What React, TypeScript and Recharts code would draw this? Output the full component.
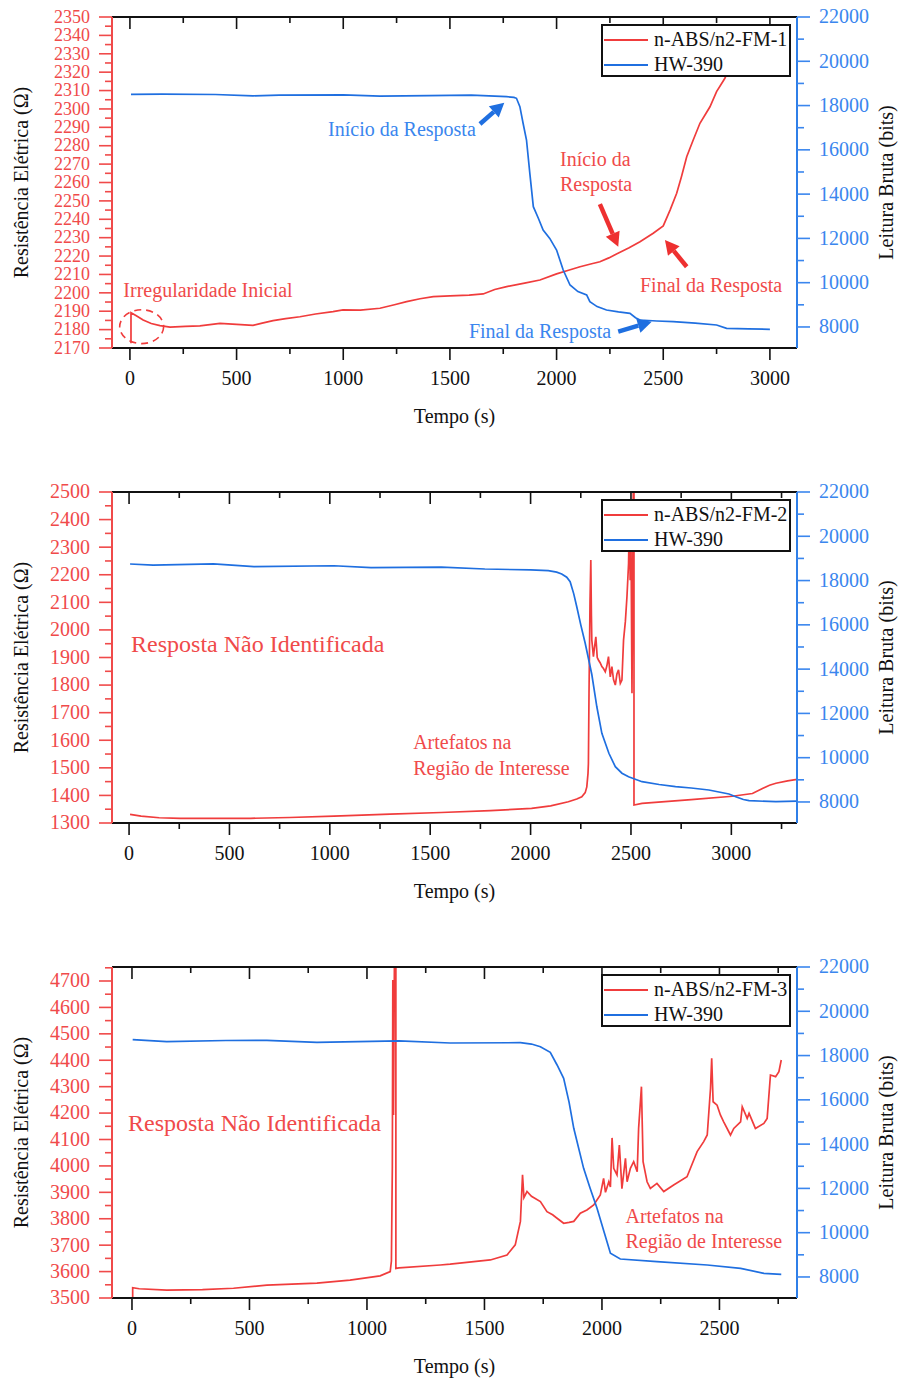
import { LineChart, Line, XAxis, YAxis, Legend, ReferenceDot, ReferenceLine, ReferenceArea } from 'recharts';

// ---- data (t in s, resistance in ohm, raw reading in bits) ----
const sensor1 = [[5, 2172.6], [5, 2189.2], [30, 2187.5], [62, 2185.2], [100, 2183.3], [141, 2182.2], [188, 2181.4], [260, 2181.8], [328, 2182], [422, 2183.4], [500, 2182.8], [577, 2182.3], [620, 2183.5], [671, 2184.9], [730, 2186], [797, 2187], [870, 2188.5], [952, 2189.8], [999, 2190.7], [1080, 2190.6], [1172, 2191.6], [1240, 2193.5], [1297, 2195.2], [1360, 2196.8], [1422, 2197.9], [1500, 2198.3], [1590, 2198.8], [1656, 2199.4], [1710, 2201.8], [1766, 2203.4], [1850, 2205.3], [1922, 2207], [2000, 2210.3], [2060, 2212.4], [2110, 2214.2], [2160, 2215.7], [2203, 2216.9], [2245, 2219], [2281, 2221.1], [2340, 2224.5], [2391, 2227.8], [2453, 2232.4], [2500, 2236.4], [2532, 2245], [2563, 2254.1], [2585, 2263], [2610, 2274], [2640, 2283], [2672, 2292.2], [2700, 2297.5], [2719, 2301.2], [2750, 2309.4], [2789, 2316.7], [2830, 2328]];
const hw1 = [[5, 18509], [150, 18520], [400, 18500], [577, 18440], [700, 18470], [1000, 18480], [1172, 18430], [1400, 18450], [1600, 18470], [1766, 18400], [1800, 18370], [1812, 18328], [1828, 17949], [1843, 17200], [1859, 16444], [1875, 14900], [1891, 13432], [1915, 12900], [1937, 12380], [1968, 12000], [2000, 11476], [2031, 10573], [2063, 9895], [2100, 9600], [2141, 9444], [2156, 9141], [2190, 8920], [2234, 8766], [2290, 8680], [2344, 8617], [2370, 8420], [2391, 8314], [2470, 8270], [2547, 8238], [2650, 8170], [2750, 8089], [2797, 7940], [2900, 7910], [3000, 7894]];

const sensor2 = [[5, 1331], [60, 1325], [150, 1319], [255, 1317], [400, 1317], [605, 1317], [800, 1320], [1020, 1325], [1300, 1332], [1555, 1338], [1800, 1345], [2005, 1353], [2100, 1362], [2188, 1377], [2230, 1387], [2255, 1395], [2272, 1410], [2280, 1431], [2286, 1480], [2288, 1516], [2291, 1770], [2296, 2100], [2300, 2253], [2303, 2050], [2305, 1963], [2313, 1903], [2318, 1935], [2325, 1975], [2332, 1900], [2338, 1891], [2347, 1880], [2355, 1867], [2363, 1860], [2372, 1848], [2380, 1870], [2388, 1903], [2397, 1830], [2405, 1867], [2413, 1820], [2422, 1800], [2430, 1840], [2438, 1855], [2447, 1806], [2455, 1818], [2463, 1963], [2472, 2030], [2480, 2120], [2488, 2241], [2492, 2420], [2496, 2180], [2500, 2350], [2505, 1770], [2508, 2100], [2512, 2560], [2515, 2560], [2515, 1365], [2555, 1371], [2800, 1385], [3005, 1397], [3105, 1407], [3155, 1425], [3190, 1437], [3222, 1444], [3280, 1453], [3338, 1459]];
const hw2 = [[5, 18748], [120, 18695], [420, 18750], [622, 18630], [1020, 18670], [1205, 18580], [1555, 18610], [1772, 18522], [2000, 18480], [2088, 18448], [2130, 18380], [2155, 18298], [2180, 18150], [2197, 17950], [2215, 17400], [2230, 16820], [2250, 16000], [2272, 15166], [2290, 14400], [2305, 13756], [2330, 12300], [2355, 11101], [2390, 10200], [2422, 9593], [2455, 9300], [2488, 9142], [2555, 8915], [2640, 8790], [2722, 8690], [2800, 8630], [2888, 8540], [2988, 8360], [3022, 8238], [3060, 8110], [3088, 8057], [3222, 8012], [3338, 8042]];

const sensor3 = [[3, 3500], [3, 3539], [31, 3535], [148, 3530], [300, 3532], [432, 3537], [574, 3549], [787, 3556], [928, 3568], [1056, 3584], [1099, 3600], [1104, 3640], [1108, 4000], [1110, 4704], [1113, 4193], [1117, 4800], [1123, 4800], [1123, 3612], [1136, 3614], [1312, 3625], [1354, 3628], [1525, 3644], [1596, 3663], [1631, 3701], [1653, 3790], [1662, 3966], [1668, 3880], [1674, 3890], [1681, 3903], [1700, 3885], [1738, 3865], [1766, 3827], [1790, 3815], [1809, 3802], [1837, 3783], [1860, 3786], [1880, 3790], [1908, 3821], [1936, 3833], [1965, 3852], [1993, 3890], [2007, 3953], [2015, 3900], [2029, 3940], [2036, 3920], [2043, 4106], [2050, 3991], [2064, 3966], [2074, 4079], [2085, 3914], [2100, 4029], [2107, 3940], [2121, 3991], [2135, 4016], [2150, 3978], [2156, 4142], [2168, 4300], [2175, 4016], [2192, 3940], [2206, 3915], [2234, 3934], [2263, 3903], [2305, 3928], [2362, 3959], [2405, 4054], [2433, 4092], [2448, 4117], [2462, 4294], [2467, 4407], [2473, 4243], [2490, 4230], [2504, 4193], [2518, 4167], [2547, 4117], [2561, 4142], [2590, 4167], [2597, 4224], [2618, 4180], [2626, 4199], [2653, 4142], [2689, 4161], [2703, 4180], [2717, 4344], [2739, 4338], [2753, 4357], [2763, 4401]];
const hw3 = [[3, 18718], [148, 18630], [400, 18680], [574, 18690], [787, 18600], [1136, 18660], [1354, 18567], [1653, 18580], [1700, 18520], [1738, 18400], [1780, 18147], [1809, 17574], [1837, 16970], [1860, 15900], [1880, 14714], [1922, 12906], [1950, 12000], [1979, 11100], [2010, 10000], [2036, 9070], [2078, 8810], [2234, 8690], [2448, 8540], [2590, 8390], [2689, 8164], [2763, 8120]];

// tick labels
const timeTicks1 = [0, 500, 1000, 1500, 2000, 2500, 3000];
const timeTicks2 = [0, 500, 1000, 1500, 2000, 2500, 3000];
const timeTicks3 = [0, 500, 1000, 1500, 2000, 2500];
const resTicks1 = [2170, 2180, 2190, 2200, 2210, 2220, 2230, 2240, 2250, 2260, 2270, 2280, 2290, 2300, 2310, 2320, 2330, 2340, 2350];
const resTicks2 = [1300, 1400, 1500, 1600, 1700, 1800, 1900, 2000, 2100, 2200, 2300, 2400, 2500];
const resTicks3 = [3500, 3600, 3700, 3800, 3900, 4000, 4100, 4200, 4300, 4400, 4500, 4600, 4700];
const bitTicks = [8000, 10000, 12000, 14000, 16000, 18000, 20000, 22000];

const RED = '#f03c3c';
const RED_TXT = '#f04a4a';
const BLUE = '#1f6fe0';
const BLUE_TXT = '#3a86ee';
const FONT = '"Liberation Serif", "Times New Roman", serif';
const FS = 20;

// major ticks plus a minor tick halfway to the next one (and one past the last, if inside the domain)
const withMinor = (major: number[], max: number) => {
  const step = major[1] - major[0];
  const out: number[] = [];
  major.forEach((m) => {
    out.push(m);
    if (m + step / 2 <= max) out.push(m + step / 2);
  });
  return out;
};

const toPts = (arr: number[][]) => arr.map(([t, v]) => ({ t, v }));

const VTick = ({ x, y, payload, majors, side, color, size }: any) => {
  const major = majors.includes(payload.value);
  const len = major ? 13 : 7;
  const dir = side === 'left' ? -1 : 1;
  const fs = size || FS;
  return (
    <g>
      <line x1={x} y1={y} x2={x + dir * len} y2={y} stroke={color} strokeWidth={1.6} />
      {major && (
        <text x={x + dir * 22} y={y} dy={fs * 0.32} textAnchor={side === 'left' ? 'end' : 'start'} fill={color} fontSize={fs} fontFamily={FONT}>
          {payload.value}
        </text>
      )}
    </g>
  );
};

const HTick = ({ x, y, payload, majors, side }: any) => {
  const major = majors.includes(payload.value);
  const len = major ? 12 : 6;
  return (
    <g>
      <line x1={x} y1={y} x2={x} y2={y + len} stroke="#111" strokeWidth={1.6} />
      {major && side === 'bottom' && (
        <text x={x} y={y + 37} textAnchor="middle" fill="#111" fontSize={FS} fontFamily={FONT}>
          {payload.value}
        </text>
      )}
    </g>
  );
};

const AxisTitle = ({ viewBox, text, kind }: any) => {
  const { x, y, width, height } = viewBox;
  if (kind === 'x') {
    return (
      <text x={x + width / 2} y={y + 75} textAnchor="middle" fill="#111" fontSize={FS} fontFamily={FONT}>
        {text}
      </text>
    );
  }
  const cx = kind === 'left' ? x + 22 : x + 90;
  const cy = y + height / 2;
  return (
    <text x={cx} y={cy} dy={6} transform={`rotate(-90 ${cx} ${cy})`} textAnchor="middle" fill="#111" fontSize={FS} fontFamily={FONT}>
      {text}
    </text>
  );
};

const Arrow = ({ x1, y1, x2, y2, color }: any) => {
  const dx = x2 - x1;
  const dy = y2 - y1;
  const L = Math.sqrt(dx * dx + dy * dy);
  const ux = dx / L;
  const uy = dy / L;
  const head = 14;
  const hw = 7.5;
  const bx = x2 - ux * head;
  const by = y2 - uy * head;
  return (
    <g>
      <line x1={x1} y1={y1} x2={bx} y2={by} stroke={color} strokeWidth={4.5} />
      <polygon points={`${x2},${y2} ${bx - uy * hw},${by + ux * hw} ${bx + uy * hw},${by - ux * hw}`} fill={color} />
    </g>
  );
};

const Ellipse = ({ x, y, width, height }: any) => (
  <ellipse cx={x + width / 2} cy={y + height / 2} rx={width / 2} ry={height / 2} fill="none" stroke={RED} strokeWidth={1.6} strokeDasharray="7 5" />
);

// sensor first, HW-390 second, as in the figure
const LegendBox = ({ payload }: any) => {
  const items = [...(payload || [])].sort((a: any, b: any) => (a.value === 'HW-390' ? 1 : 0) - (b.value === 'HW-390' ? 1 : 0));
  return (
    <div style={{ boxSizing: 'border-box', width: 190, height: 53, border: '2px solid #111', background: '#fff', paddingTop: 1, fontFamily: FONT, fontSize: FS, color: '#111' }}>
      {items.map((p: any) => (
        <div key={p.value} style={{ display: 'flex', alignItems: 'center', height: 25, whiteSpace: 'nowrap' }}>
          <span style={{ display: 'inline-block', width: 44, height: 0, borderTop: `2px solid ${p.color}`, marginLeft: 1, marginRight: 6 }} />
          <span style={{ lineHeight: '25px' }}>{p.value}</span>
        </div>
      ))}
    </div>
  );
};

// annotations, in data coordinates (t, resistance)
const notes1 = [
  { text: 'Irregularidade Inicial', t: 366, v: 2197.6, color: RED_TXT, anchor: 'middle', size: FS },
  { text: 'Início da Resposta', t: 1275, v: 2285.5, color: BLUE_TXT, anchor: 'middle', size: FS },
  { text: 'Início da', t: 2016, v: 2269, color: RED_TXT, anchor: 'start', size: FS },
  { text: 'Resposta', t: 2016, v: 2255.4, color: RED_TXT, anchor: 'start', size: FS },
  { text: 'Final da Resposta', t: 2391, v: 2200.5, color: RED_TXT, anchor: 'start', size: FS },
  { text: 'Final da Resposta', t: 1589, v: 2175.4, color: BLUE_TXT, anchor: 'start', size: FS },
];
const arrows1 = [
  { from: [1641, 2291.8], to: [1755, 2303.4], color: BLUE },
  { from: [2203, 2248.3], to: [2289, 2225.1], color: '#ee3030' },
  { from: [2610, 2214.2], to: [2508, 2228.7], color: '#ee3030' },
  { from: [2289, 2178.9], to: [2446, 2184.3], color: BLUE },
];
const notes2 = [
  { text: 'Resposta Não Identificada', t: 10, v: 1920, color: RED_TXT, anchor: 'start', size: 24 },
  { text: 'Artefatos na', t: 1415, v: 1568, color: RED_TXT, anchor: 'start', size: FS },
  { text: 'Região de Interesse', t: 1415, v: 1474, color: RED_TXT, anchor: 'start', size: FS },
];
const notes3 = [
  { text: 'Resposta Não Identificada', t: -17, v: 4132, color: RED_TXT, anchor: 'start', size: 24 },
  { text: 'Artefatos na', t: 2100, v: 3784, color: RED_TXT, anchor: 'start', size: FS },
  { text: 'Região de Interesse', t: 2100, v: 3689, color: RED_TXT, anchor: 'start', size: FS },
];

const panels = [
  { name: 'n-ABS/n2-FM-1', red: sensor1, blue: hw1, xDomain: [-84, 3127], xTicks: timeTicks1, resDomain: [2170, 2350], resTicks: resTicks1, resFont: 18, notes: notes1, arrows: arrows1, ellipse: { t1: -48, t2: 158, v1: 2172.4, v2: 2190.8 } },
  { name: 'n-ABS/n2-FM-2', red: sensor2, blue: hw2, xDomain: [-85, 3327], xTicks: timeTicks2, resDomain: [1300, 2500], resTicks: resTicks2, resFont: FS, notes: notes2, arrows: [], ellipse: null },
  { name: 'n-ABS/n2-FM-3', red: sensor3, blue: hw3, xDomain: [-85, 2830], xTicks: timeTicks3, resDomain: [3500, 4753], resTicks: resTicks3, resFont: FS, notes: notes3, arrows: [], ellipse: null },
];

const Panel = ({ p }: any) => {
  const xAll = withMinor(p.xTicks, p.xDomain[1]);
  const resAll = withMinor(p.resTicks, p.resDomain[1]);
  const bitAll = withMinor(bitTicks, 22000);
  return (
    <LineChart width={901} height={475} margin={{ top: 16, right: 0, bottom: 47, left: 0 }}>
      <XAxis xAxisId="bottom" type="number" dataKey="t" domain={p.xDomain} allowDataOverflow ticks={xAll} interval={0} height={80}
        tickSize={0} tickMargin={0} axisLine={{ stroke: '#111', strokeWidth: 1.8 }}
        tick={(props: any) => <HTick {...props} majors={p.xTicks} side="bottom" />}
        label={<AxisTitle kind="x" text="Tempo (s)" />} />
      <XAxis xAxisId="top" orientation="top" type="number" dataKey="t" domain={p.xDomain} allowDataOverflow ticks={xAll} interval={0} height={1}
        tickSize={0} tickMargin={0} axisLine={{ stroke: '#111', strokeWidth: 1.8 }}
        tick={(props: any) => <HTick {...props} majors={p.xTicks} side="top" />} />
      <YAxis yAxisId="left" type="number" domain={p.resDomain} allowDataOverflow ticks={resAll} interval={0} width={112}
        tickSize={0} tickMargin={0} axisLine={{ stroke: RED_TXT, strokeWidth: 2 }}
        tick={(props: any) => <VTick {...props} majors={p.resTicks} side="left" color={RED_TXT} size={p.resFont} />}
        label={<AxisTitle kind="left" text="Resistência Elétrica (Ω)" />} />
      <YAxis yAxisId="right" orientation="right" type="number" domain={[7050, 22000]} allowDataOverflow ticks={bitAll} interval={0} width={104}
        tickSize={0} tickMargin={0} axisLine={{ stroke: '#2f7fe8', strokeWidth: 2 }}
        tick={(props: any) => <VTick {...props} majors={bitTicks} side="right" color={BLUE_TXT} />}
        label={<AxisTitle kind="right" text="Leitura Bruta (bits)" />} />
      <Line xAxisId="bottom" yAxisId="left" data={toPts(p.red)} dataKey="v" name={p.name} stroke={RED} strokeWidth={1.7} dot={false} isAnimationActive={false} />
      <Line xAxisId="bottom" yAxisId="right" data={toPts(p.blue)} dataKey="v" name="HW-390" stroke={BLUE} strokeWidth={1.7} dot={false} isAnimationActive={false} />
      {p.ellipse && (
        <ReferenceArea xAxisId="bottom" yAxisId="left" x1={p.ellipse.t1} x2={p.ellipse.t2} y1={p.ellipse.v1} y2={p.ellipse.v2} ifOverflow="visible" shape={(s: any) => <Ellipse {...s} />} />
      )}
      {p.arrows.map((a: any, i: number) => (
        <ReferenceLine key={'a' + i} xAxisId="bottom" yAxisId="left" ifOverflow="visible"
          segment={[{ x: a.from[0], y: a.from[1] }, { x: a.to[0], y: a.to[1] }]}
          shape={(s: any) => <Arrow {...s} color={a.color} />} />
      ))}
      {p.notes.map((n: any, i: number) => (
        <ReferenceDot key={'n' + i} xAxisId="bottom" yAxisId="left" x={n.t} y={n.v} r={0} ifOverflow="visible"
          shape={(s: any) => (
            <text x={s.cx} y={s.cy} textAnchor={n.anchor} fill={n.color} fontSize={n.size} fontFamily={FONT}>{n.text}</text>
          )} />
      ))}
      <Legend layout="vertical" align="center" verticalAlign="middle" content={<LegendBox />}
        wrapperStyle={{ top: 24, left: 601, width: 190, height: 53 }} />
    </LineChart>
  );
};

export default function App() {
  return (
    <div style={{ position: 'absolute', left: 0, top: 0, width: 901, height: 1383, background: '#fff' }}>
      {panels.map((p) => (
        <Panel key={p.name} p={p} />
      ))}
    </div>
  );
}
